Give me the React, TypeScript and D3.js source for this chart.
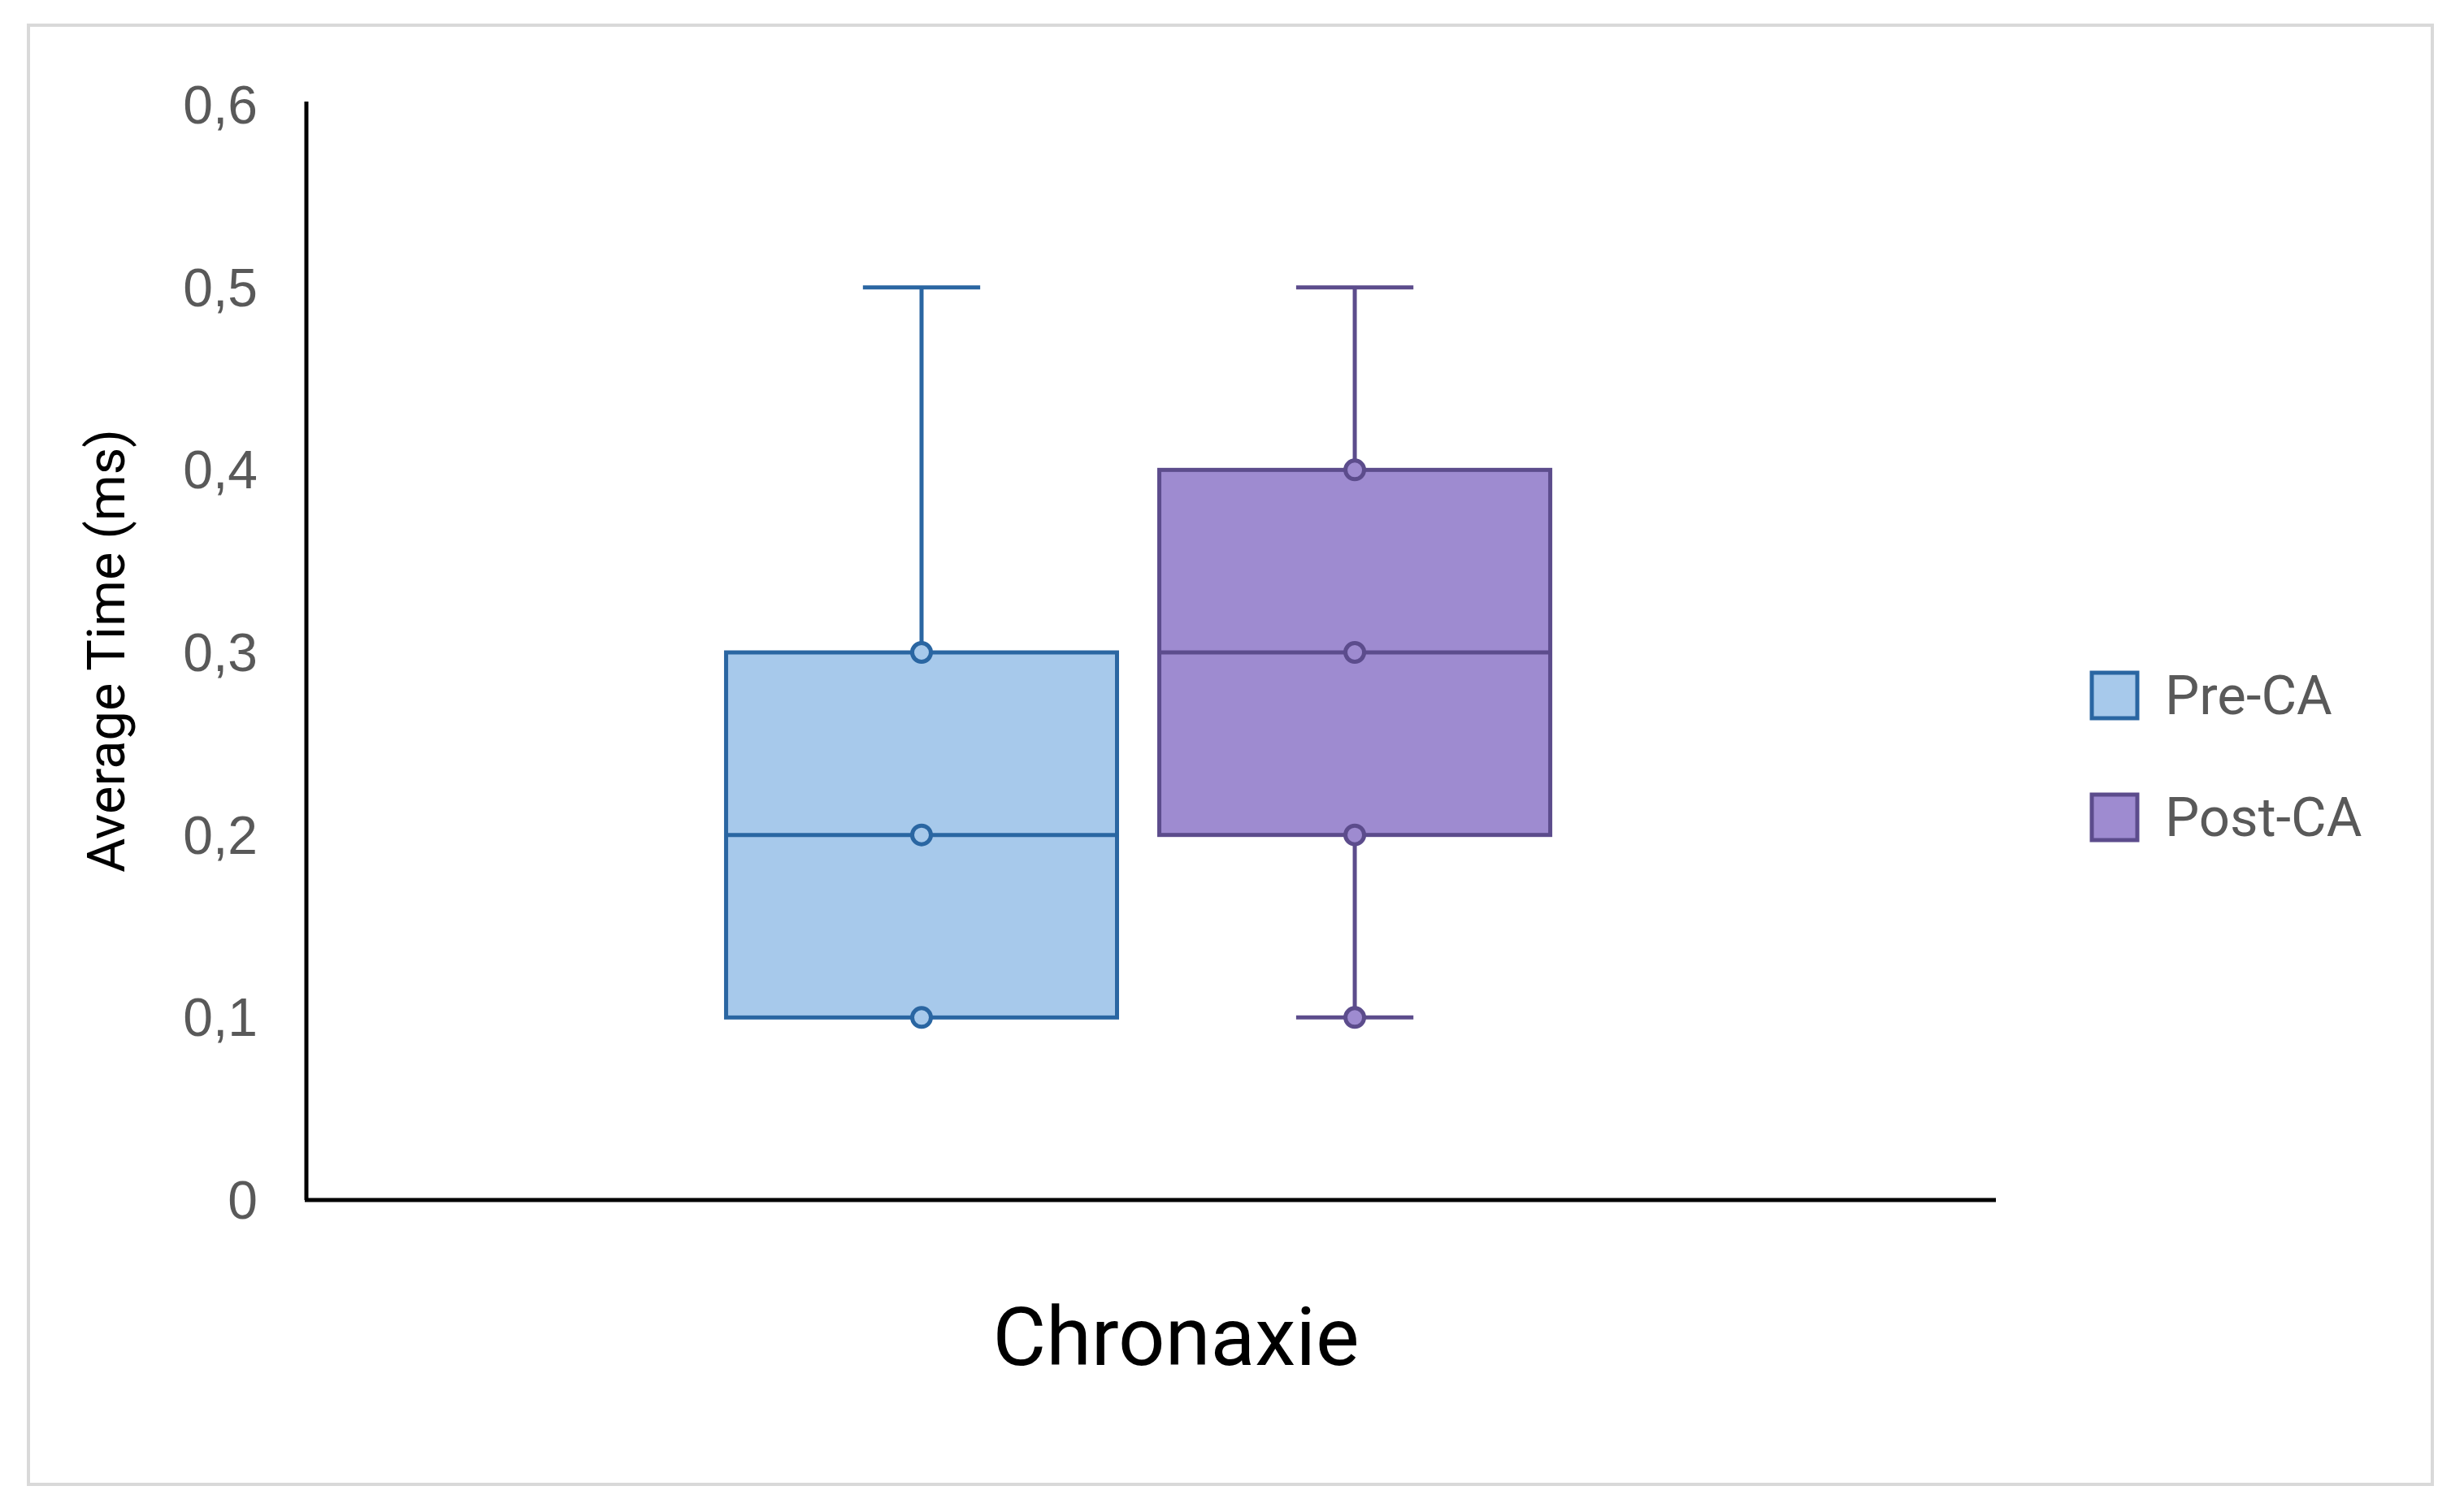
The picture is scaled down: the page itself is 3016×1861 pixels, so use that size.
import React, { useEffect, useRef } from "react";
import * as d3 from "d3";

// chart values
const categories = ["Chronaxie"];
const seriesNames = ["Pre-CA", "Post-CA"];
const whiskerMin = [0.1, 0.1];
const quartile1 = [0.1, 0.2];
const medians = [0.2, 0.3];
const quartile3 = [0.3, 0.4];
const whiskerMax = [0.5, 0.5];
const preCAPoints = [0.1, 0.2, 0.3];
const postCAPoints = [0.1, 0.2, 0.3, 0.4];
const yTicks = [0, 0.1, 0.2, 0.3, 0.4, 0.5, 0.6];

const fills = ["#A7C9EB", "#9E8BD0"];
const strokes = ["#2A66A2", "#5C4C8C"];

const W = 3016;
const H = 1861;

function App() {
  const ref = useRef<SVGSVGElement | null>(null);

  useEffect(() => {
    const svg = d3.select(ref.current);
    svg.selectAll("*").remove();

    const left = 377, right = 2456, top = 129, bottom = 1477;
    const lw = 5;

    // frame
    svg.append("rect")
      .attr("x", 35).attr("y", 31)
      .attr("width", 2958).attr("height", 1796)
      .attr("fill", "#fff")
      .attr("stroke", "#d9d9d9")
      .attr("stroke-width", 4);

    const y = d3.scaleLinear().domain([0, 0.6]).range([bottom, top]);
    const x0 = d3.scaleBand<string>().domain(categories).range([left, right])
      .paddingOuter(0.525).align(0.485);
    const x1 = d3.scaleBand<string>().domain(seriesNames)
      .range([0, x0.bandwidth()]).paddingInner(0.0976);

    const fmt = (v: number) => (v === 0 ? "0" : d3.format(".1f")(v).replace(".", ","));

    // y tick labels
    svg.append("g").selectAll("text").data(yTicks).join("text")
      .attr("x", 317)
      .attr("y", d => y(d))
      .attr("text-anchor", "end")
      .attr("dominant-baseline", "central")
      .attr("font-family", "Liberation Sans, Arial, sans-serif")
      .attr("font-size", 66)
      .attr("fill", "#595959")
      .text(d => fmt(d));

    const pointSets = [preCAPoints, postCAPoints];

    seriesNames.forEach((name, i) => {
      const bx = (x0(categories[0]) as number) + (x1(name) as number);
      const bw = x1.bandwidth();
      const cx = bx + bw / 2;
      const capW = bw * 0.3;
      const g = svg.append("g");

      // whiskers
      if (whiskerMax[i] > quartile3[i]) {
        g.append("line").attr("x1", cx).attr("x2", cx)
          .attr("y1", y(quartile3[i])).attr("y2", y(whiskerMax[i]))
          .attr("stroke", strokes[i]).attr("stroke-width", lw);
        g.append("line").attr("x1", cx - capW / 2).attr("x2", cx + capW / 2)
          .attr("y1", y(whiskerMax[i])).attr("y2", y(whiskerMax[i]))
          .attr("stroke", strokes[i]).attr("stroke-width", lw);
      }
      if (whiskerMin[i] < quartile1[i]) {
        g.append("line").attr("x1", cx).attr("x2", cx)
          .attr("y1", y(quartile1[i])).attr("y2", y(whiskerMin[i]))
          .attr("stroke", strokes[i]).attr("stroke-width", lw);
        g.append("line").attr("x1", cx - capW / 2).attr("x2", cx + capW / 2)
          .attr("y1", y(whiskerMin[i])).attr("y2", y(whiskerMin[i]))
          .attr("stroke", strokes[i]).attr("stroke-width", lw);
      }

      // box
      g.append("rect")
        .attr("x", bx).attr("y", y(quartile3[i]))
        .attr("width", bw).attr("height", y(quartile1[i]) - y(quartile3[i]))
        .attr("fill", fills[i])
        .attr("stroke", strokes[i]).attr("stroke-width", lw);

      // median
      g.append("line").attr("x1", bx).attr("x2", bx + bw)
        .attr("y1", y(medians[i])).attr("y2", y(medians[i]))
        .attr("stroke", strokes[i]).attr("stroke-width", lw);

      // inner points
      g.selectAll("circle").data(pointSets[i]).join("circle")
        .attr("cx", cx)
        .attr("cy", d => y(d))
        .attr("r", 11.5)
        .attr("fill", fills[i])
        .attr("stroke", strokes[i])
        .attr("stroke-width", lw);
    });

    // axes
    svg.append("line").attr("x1", left).attr("x2", left)
      .attr("y1", top - 4).attr("y2", bottom)
      .attr("stroke", "#000").attr("stroke-width", 5);
    svg.append("line").attr("x1", left - 2).attr("x2", right)
      .attr("y1", bottom).attr("y2", bottom)
      .attr("stroke", "#000").attr("stroke-width", 5);

    // category label
    svg.append("text")
      .attr("x", 1447).attr("y", 1645)
      .attr("text-anchor", "middle")
      .attr("dominant-baseline", "central")
      .attr("font-family", "Roboto, sans-serif")
      .attr("font-size", 101)
      .attr("fill", "#000")
      .text(categories[0]);

    // y axis title
    svg.append("text")
      .attr("transform", "translate(131,801) rotate(-90)")
      .attr("text-anchor", "middle")
      .attr("dominant-baseline", "central")
      .attr("font-family", "Roboto, sans-serif")
      .attr("font-size", 65)
      .attr("fill", "#000")
      .text("Average Time (ms)");

    // legend
    const legend = svg.append("g");
    const legendY = [856, 1006];
    seriesNames.forEach((name, i) => {
      legend.append("rect")
        .attr("x", 2574).attr("y", legendY[i] - 28)
        .attr("width", 56).attr("height", 56)
        .attr("fill", fills[i])
        .attr("stroke", strokes[i]).attr("stroke-width", 5);
      legend.append("text")
        .attr("x", 2664).attr("y", legendY[i])
        .attr("dominant-baseline", "central")
        .attr("font-family", "Roboto, sans-serif")
        .attr("font-size", 67)
        .attr("fill", "#595959")
        .text(name);
    });
  }, []);

  return (
    <svg
      ref={ref}
      width={W}
      height={H}
      style={{ position: "absolute", left: 0, top: 0, background: "#fff" }}
    />
  );
}

export default App;
